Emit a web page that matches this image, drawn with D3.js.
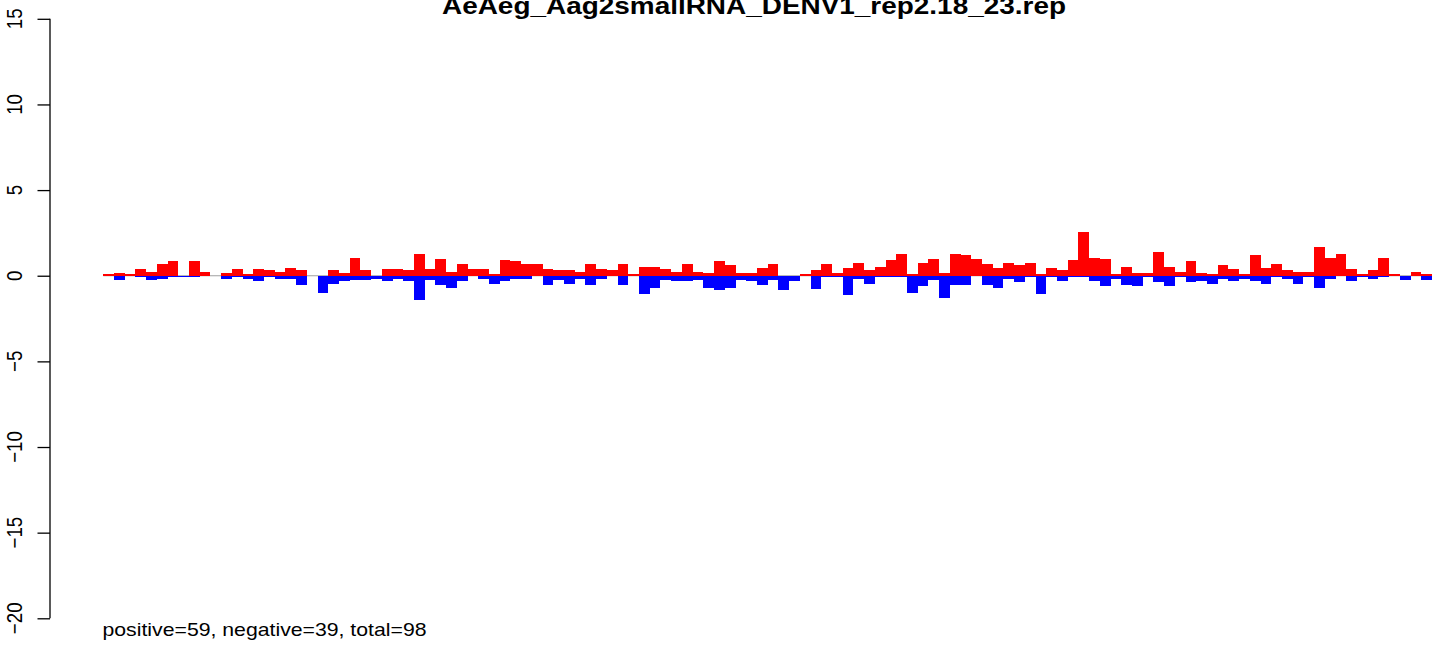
<!DOCTYPE html>
<html>
<head>
<meta charset="utf-8">
<script src="https://cdn.jsdelivr.net/npm/d3@7"></script>
<style>
  html, body { margin: 0; padding: 0; background: #fff; }
  svg { display: block; }
  text { font-family: "Liberation Sans", Arial, Helvetica, sans-serif; fill: #000; }
</style>
</head>
<body>
<svg id="chart" width="1444" height="645"></svg>
<script>
// ---- data ----
const title = "AeAeg_Aag2smallRNA_DENV1_rep2.18_23.rep";
const footnote = "positive=59, negative=39, total=98";
const yTicks = [-20, -15, -10, -5, 0, 5, 10, 15];
const positive = [
  0.09, 0.15, 0.09, 0.38, 0.2, 0.67, 0.85, 0, 0.85, 0.2,
  0, 0.15, 0.38, 0.09, 0.38, 0.32, 0.2, 0.44, 0.32, 0,
  0, 0.32, 0.15, 1.02, 0.32, 0, 0.38, 0.38, 0.32, 1.25,
  0.38, 0.96, 0.2, 0.67, 0.38, 0.38, 0.09, 0.9, 0.85, 0.67,
  0.67, 0.38, 0.32, 0.32, 0.2, 0.67, 0.38, 0.32, 0.67, 0.09,
  0.5, 0.5, 0.38, 0.2, 0.67, 0.2, 0.15, 0.85, 0.61, 0.15,
  0.15, 0.44, 0.67, 0, 0, 0.09, 0.32, 0.67, 0.15, 0.44,
  0.73, 0.32, 0.5, 0.9, 1.25, 0.09, 0.73, 0.96, 0.15, 1.25,
  1.2, 0.96, 0.67, 0.44, 0.73, 0.61, 0.73, 0.09, 0.44, 0.32,
  0.9, 2.54, 1.02, 0.96, 0.09, 0.5, 0.15, 0.15, 1.37, 0.5,
  0.2, 0.85, 0.15, 0.09, 0.61, 0.38, 0.09, 1.2, 0.44, 0.67,
  0.32, 0.2, 0.2, 1.66, 1.02, 1.25, 0.38, 0.09, 0.32, 1.02,
  0.09, 0, 0.2, 0.09
];
const negative = [
  0, 0.26, 0, 0.09, 0.26, 0.2, 0.09, 0.09, 0.09, 0,
  0, 0.2, 0.09, 0.2, 0.32, 0.09, 0.2, 0.2, 0.55, 0,
  1.02, 0.5, 0.32, 0.26, 0.26, 0.2, 0.32, 0.2, 0.32, 1.43,
  0.26, 0.55, 0.73, 0.32, 0, 0.2, 0.5, 0.32, 0.2, 0.2,
  0, 0.55, 0.26, 0.5, 0.2, 0.55, 0.2, 0, 0.55, 0,
  1.08, 0.73, 0.26, 0.32, 0.32, 0.26, 0.73, 0.85, 0.73, 0.26,
  0.32, 0.55, 0.26, 0.85, 0.32, 0, 0.79, 0.09, 0.09, 1.14,
  0.2, 0.5, 0.09, 0.09, 0.09, 1.02, 0.61, 0.26, 1.31, 0.55,
  0.55, 0, 0.55, 0.73, 0.2, 0.38, 0.09, 1.08, 0.09, 0.32,
  0.09, 0.09, 0.32, 0.61, 0.2, 0.55, 0.61, 0.09, 0.38, 0.61,
  0.09, 0.38, 0.32, 0.5, 0.2, 0.32, 0.2, 0.32, 0.5, 0.09,
  0.2, 0.5, 0.09, 0.73, 0.2, 0, 0.32, 0.09, 0.2, 0.09,
  0, 0.26, 0, 0.26
];
const positions = positive.map((d, i) => i + 1);

// ---- layout ----
const svg = d3.select("#chart");
const plotLeft = 103.3, plotRight = 1432;
const yTop = 18.8, yBottom = 618.3;
const sx = 1.15; // horizontal stretch of the original raster

const x = d3.scaleBand().domain(positions).range([plotLeft, plotRight]).padding(0);
const y = d3.scaleLinear().domain([-20, 15]).range([yBottom, yTop]);

// zero reference line
svg.append("line")
  .attr("x1", plotLeft).attr("x2", plotRight)
  .attr("y1", y(0)).attr("y2", y(0))
  .attr("stroke", "#a0a0a0").attr("stroke-width", 1.2);

// positive bars (red)
svg.append("g").selectAll("rect")
  .data(positions.map((p, i) => ({ p, v: positive[i] })).filter(d => d.v > 0))
  .join("rect")
  .attr("x", d => x(d.p))
  .attr("width", x.bandwidth())
  .attr("y", d => y(d.v))
  .attr("height", d => y(0) - y(d.v))
  .attr("fill", "#ff0000")
  .attr("shape-rendering", "crispEdges");

// negative bars (blue)
svg.append("g").selectAll("rect")
  .data(positions.map((p, i) => ({ p, v: negative[i] })).filter(d => d.v > 0))
  .join("rect")
  .attr("x", d => x(d.p))
  .attr("width", x.bandwidth())
  .attr("y", y(0))
  .attr("height", d => y(-d.v) - y(0))
  .attr("fill", "#0000ff")
  .attr("shape-rendering", "crispEdges");

// y axis
const axisX = 50;
const axis = d3.axisLeft(y).tickValues(yTicks).tickSize(12.5).tickFormat("");
const gAxis = svg.append("g").attr("transform", `translate(${axisX},0)`).call(axis);
gAxis.select(".domain").attr("d", `M0,${yTop}V${yBottom}`).attr("stroke", "#000").attr("stroke-width", 1.3);
gAxis.selectAll(".tick line").attr("stroke", "#000").attr("stroke-width", 1.3);

// rotated tick labels (R style)
const fmt = d3.format("d");
svg.append("g").selectAll("g")
  .data(yTicks)
  .join("g")
  .attr("transform", d => `translate(21.7,${y(d)}) scale(${sx},1) rotate(-90)`)
  .append("text")
  .attr("text-anchor", "middle")
  .attr("font-size", 18.7)
  .text(d => fmt(d));

// title (partially clipped at top, as in the reference)
svg.append("text")
  .attr("x", 442)
  .attr("y", 13.5)
  .attr("font-size", 24.5)
  .attr("font-weight", "bold")
  .attr("textLength", 624)
  .attr("lengthAdjust", "spacingAndGlyphs")
  .text(title);

// footnote
svg.append("text")
  .attr("x", 102.5)
  .attr("y", 635.5)
  .attr("font-size", 18.6)
  .attr("textLength", 324)
  .attr("lengthAdjust", "spacingAndGlyphs")
  .text(footnote);
</script>
</body>
</html>
